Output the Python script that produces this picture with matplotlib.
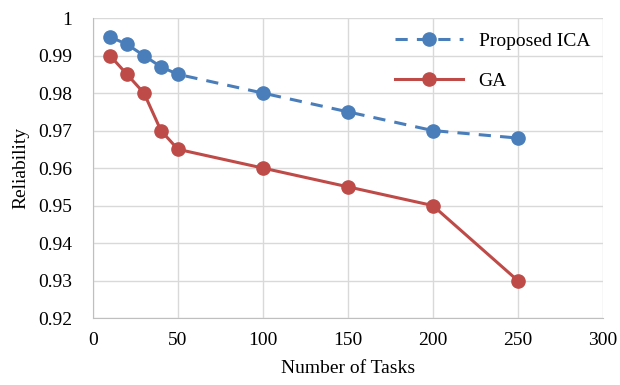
import matplotlib.pyplot as plt

plt.rcParams["font.family"] = ["Liberation Serif", "DejaVu Serif"]

tasks = [10, 20, 30, 40, 50, 100, 150, 200, 250]
ica = [0.995, 0.993, 0.990, 0.987, 0.985, 0.980, 0.975, 0.970, 0.968]
ga = [0.990, 0.985, 0.980, 0.970, 0.965, 0.960, 0.955, 0.950, 0.930]

blue = "#4a7ebb"
red = "#be4b48"
grid = "#d9d9d9"

fig = plt.figure(figsize=(6.2, 3.85), dpi=100)
ax = fig.add_axes([0.15, 0.174, 0.822, 0.779])

ax.plot(tasks, ica, color=blue, linestyle=(0, (4, 3)), linewidth=2.2,
        marker="o", markersize=9.5, label="Proposed ICA")
ax.plot(tasks, ga, color=red, linewidth=2.2,
        marker="o", markersize=9.5, label="GA")

ax.set_xlim(0, 300)
ax.set_ylim(0.92, 1.0)
ax.set_xticks(range(0, 301, 50))
ax.set_yticks([0.92, 0.93, 0.94, 0.95, 0.96, 0.97, 0.98, 0.99, 1.0])
ax.set_yticklabels(["0.92", "0.93", "0.94", "0.95", "0.96", "0.97", "0.98", "0.99", "1"])
ax.grid(True, color=grid, linewidth=1)
ax.set_axisbelow(True)
for s in ["top", "right"]:
    ax.spines[s].set_visible(False)
for s in ["left", "bottom"]:
    ax.spines[s].set_color("#bfbfbf")
ax.tick_params(axis="y", length=0, labelsize=14, pad=15)
ax.tick_params(axis="x", length=0, labelsize=14, pad=10)
ax.set_xlabel("Number of Tasks", fontsize=14, labelpad=8)
ax.set_ylabel("Reliability", fontsize=14, labelpad=6)

leg = ax.legend(loc="upper right", fontsize=14, frameon=False,
                handlelength=3.5, bbox_to_anchor=(1.01, 1.01), labelspacing=1.15)

fig.savefig("out.png", dpi=100)
